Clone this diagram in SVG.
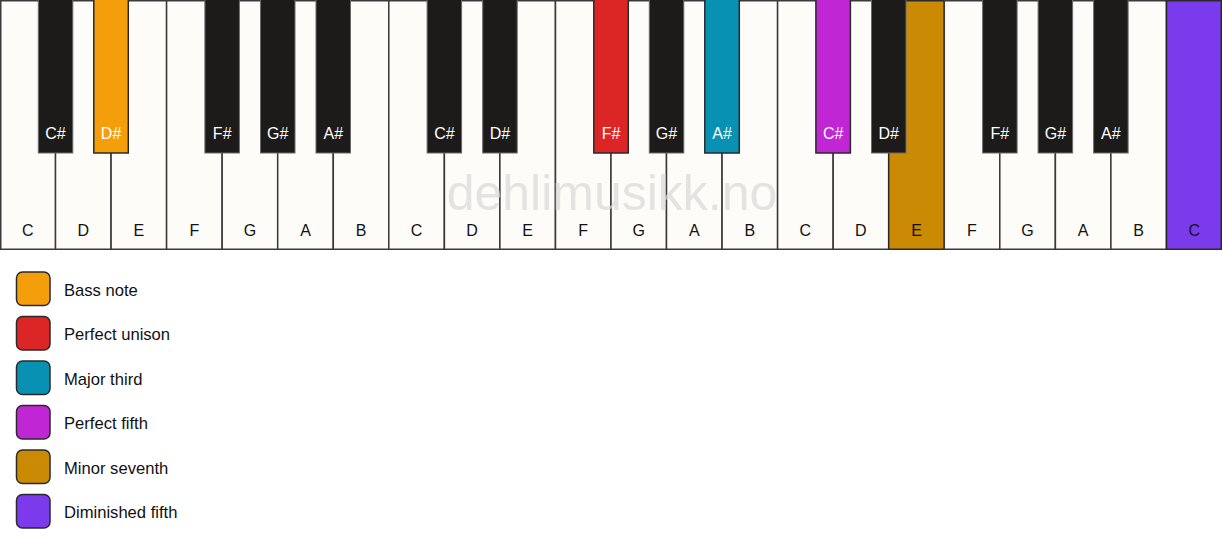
<svg xmlns="http://www.w3.org/2000/svg" width="1222" height="550" viewBox="0 0 1222 550">
<style>
.w{fill:#fdfcf9;stroke:#3a3a3a;stroke-width:1.5}
.b{fill:#1c1b19;stroke:#6b6b6b;stroke-width:1}
.c{stroke:#2a2a2a;stroke-width:1.5}
.wl{font-family:"Liberation Sans",Arial,sans-serif;font-size:16px;fill:#111;text-anchor:middle}
.bl{font-family:"Liberation Sans",Arial,sans-serif;font-size:16px;fill:#fff;text-anchor:middle}
.lg{font-family:"Liberation Sans",Arial,sans-serif;font-size:16.6px;fill:#111}
.sw{stroke:#2a2a2a;stroke-width:1.5}
.wm{font-family:"Liberation Sans",Arial,sans-serif;font-size:50px;fill:#d8d8d8;fill-opacity:0.7;text-anchor:middle}
</style>
<rect width="1222" height="550" fill="#ffffff"/>
<g id="white-keys">
<g id="w0"><rect class="w" x="0.75" y="0.75" width="54.8" height="248.5"/><text class="wl" x="27.8" y="236">C</text></g>
<g id="w1"><rect class="w" x="55.5" y="0.75" width="55.5" height="248.5"/><text class="wl" x="83.3" y="236">D</text></g>
<g id="w2"><rect class="w" x="111.1" y="0.75" width="55.5" height="248.5"/><text class="wl" x="138.9" y="236">E</text></g>
<g id="w3"><rect class="w" x="166.6" y="0.75" width="55.5" height="248.5"/><text class="wl" x="194.4" y="236">F</text></g>
<g id="w4"><rect class="w" x="222.2" y="0.75" width="55.5" height="248.5"/><text class="wl" x="249.9" y="236">G</text></g>
<g id="w5"><rect class="w" x="277.7" y="0.75" width="55.5" height="248.5"/><text class="wl" x="305.5" y="236">A</text></g>
<g id="w6"><rect class="w" x="333.3" y="0.75" width="55.5" height="248.5"/><text class="wl" x="361" y="236">B</text></g>
<g id="w7"><rect class="w" x="388.8" y="0.75" width="55.5" height="248.5"/><text class="wl" x="416.6" y="236">C</text></g>
<g id="w8"><rect class="w" x="444.4" y="0.75" width="55.5" height="248.5"/><text class="wl" x="472.1" y="236">D</text></g>
<g id="w9"><rect class="w" x="499.9" y="0.75" width="55.5" height="248.5"/><text class="wl" x="527.7" y="236">E</text></g>
<g id="w10"><rect class="w" x="555.5" y="0.75" width="55.5" height="248.5"/><text class="wl" x="583.2" y="236">F</text></g>
<g id="w11"><rect class="w" x="611" y="0.75" width="55.5" height="248.5"/><text class="wl" x="638.8" y="236">G</text></g>
<g id="w12"><rect class="w" x="666.5" y="0.75" width="55.5" height="248.5"/><text class="wl" x="694.3" y="236">A</text></g>
<g id="w13"><rect class="w" x="722.1" y="0.75" width="55.5" height="248.5"/><text class="wl" x="749.9" y="236">B</text></g>
<g id="w14"><rect class="w" x="777.6" y="0.75" width="55.5" height="248.5"/><text class="wl" x="805.4" y="236">C</text></g>
<g id="w15"><rect class="w" x="833.2" y="0.75" width="55.5" height="248.5"/><text class="wl" x="860.9" y="236">D</text></g>
<g id="w16"><rect class="w c" x="888.7" y="0.75" width="55.5" height="248.5" style="fill:#ca8a04"/><text class="wl" x="916.5" y="236">E</text></g>
<g id="w17"><rect class="w" x="944.3" y="0.75" width="55.5" height="248.5"/><text class="wl" x="972" y="236">F</text></g>
<g id="w18"><rect class="w" x="999.8" y="0.75" width="55.5" height="248.5"/><text class="wl" x="1027.6" y="236">G</text></g>
<g id="w19"><rect class="w" x="1055.4" y="0.75" width="55.5" height="248.5"/><text class="wl" x="1083.1" y="236">A</text></g>
<g id="w20"><rect class="w" x="1110.9" y="0.75" width="55.5" height="248.5"/><text class="wl" x="1138.7" y="236">B</text></g>
<g id="w21"><rect class="w c" x="1166.5" y="0.75" width="54.8" height="248.5" style="fill:#7c3aed"/><text class="wl" x="1194.2" y="236">C</text></g>
</g>
<text class="wm" x="612" y="210">dehlimusikk.no</text>
<g id="black-keys">
<g id="b0"><rect class="b" x="38.3" y="-1" width="34.5" height="154"/><text class="bl" x="55.5" y="139">C#</text></g>
<g id="b1"><rect class="b c" x="93.8" y="-1" width="34.5" height="154" style="fill:#f59e0b"/><text class="bl" x="111.1" y="139">D#</text></g>
<g id="b3"><rect class="b" x="204.9" y="-1" width="34.5" height="154"/><text class="bl" x="222.2" y="139">F#</text></g>
<g id="b4"><rect class="b" x="260.5" y="-1" width="34.5" height="154"/><text class="bl" x="277.7" y="139">G#</text></g>
<g id="b5"><rect class="b" x="316" y="-1" width="34.5" height="154"/><text class="bl" x="333.3" y="139">A#</text></g>
<g id="b7"><rect class="b" x="427.1" y="-1" width="34.5" height="154"/><text class="bl" x="444.4" y="139">C#</text></g>
<g id="b8"><rect class="b" x="482.7" y="-1" width="34.5" height="154"/><text class="bl" x="499.9" y="139">D#</text></g>
<g id="b10"><rect class="b c" x="593.8" y="-1" width="34.5" height="154" style="fill:#dc2626"/><text class="bl" x="611" y="139">F#</text></g>
<g id="b11"><rect class="b" x="649.3" y="-1" width="34.5" height="154"/><text class="bl" x="666.5" y="139">G#</text></g>
<g id="b12"><rect class="b c" x="704.8" y="-1" width="34.5" height="154" style="fill:#0891b2"/><text class="bl" x="722.1" y="139">A#</text></g>
<g id="b14"><rect class="b c" x="815.9" y="-1" width="34.5" height="154" style="fill:#c026d3"/><text class="bl" x="833.2" y="139">C#</text></g>
<g id="b15"><rect class="b" x="871.5" y="-1" width="34.5" height="154"/><text class="bl" x="888.7" y="139">D#</text></g>
<g id="b17"><rect class="b" x="982.6" y="-1" width="34.5" height="154"/><text class="bl" x="999.8" y="139">F#</text></g>
<g id="b18"><rect class="b" x="1038.1" y="-1" width="34.5" height="154"/><text class="bl" x="1055.4" y="139">G#</text></g>
<g id="b19"><rect class="b" x="1093.6" y="-1" width="34.5" height="154"/><text class="bl" x="1110.9" y="139">A#</text></g>
</g>
<g id="legend">
<g id="lg1"><rect class="sw" x="16.5" y="272" width="33.5" height="33.5" rx="6" fill="#f59e0b"/><text class="lg" x="64" y="295.5">Bass note</text></g>
<g id="lg2"><rect class="sw" x="16.5" y="316.5" width="33.5" height="33.5" rx="6" fill="#dc2626"/><text class="lg" x="64" y="340">Perfect unison</text></g>
<g id="lg3"><rect class="sw" x="16.5" y="361" width="33.5" height="33.5" rx="6" fill="#0891b2"/><text class="lg" x="64" y="384.5">Major third</text></g>
<g id="lg4"><rect class="sw" x="16.5" y="405.5" width="33.5" height="33.5" rx="6" fill="#c026d3"/><text class="lg" x="64" y="429">Perfect fifth</text></g>
<g id="lg5"><rect class="sw" x="16.5" y="450" width="33.5" height="33.5" rx="6" fill="#ca8a04"/><text class="lg" x="64" y="473.5">Minor seventh</text></g>
<g id="lg6"><rect class="sw" x="16.5" y="494.5" width="33.5" height="33.5" rx="6" fill="#7c3aed"/><text class="lg" x="64" y="518">Diminished fifth</text></g>
</g>
</svg>
